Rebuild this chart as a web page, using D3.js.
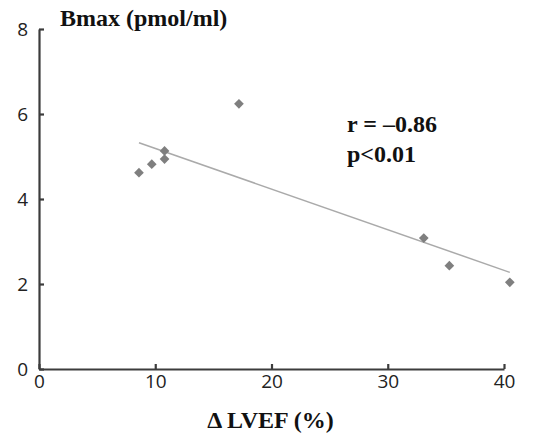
<!DOCTYPE html>
<meta charset="utf-8">
<style>
body { margin: 0; background: #fff; }
.axis text { font-family: "Open Sans", sans-serif; font-size: 19px; fill: #222; }
.title { font-family: "Liberation Serif", serif; font-weight: bold; font-size: 24px; fill: #111; }
</style>
<body>
<script src="https://d3js.org/d3.v7.min.js"></script>
<script>
// values
var lvef = [8.6, 9.7, 10.8, 10.8, 17.2, 33.1, 35.3, 40.5];
var bmax = [4.62, 4.82, 4.94, 5.13, 6.24, 3.08, 2.43, 2.04];
var xTicks = [0, 10, 20, 30, 40];
var yTicks = [0, 2, 4, 6, 8];

var width = 555, height = 437;
var margin = {top: 29, right: 51, bottom: 68, left: 39};

var svg = d3.select("body").append("svg")
    .attr("width", width)
    .attr("height", height);

var x = d3.scaleLinear().domain([0, 40]).range([margin.left, width - margin.right]);
var y = d3.scaleLinear().domain([0, 8]).range([height - margin.bottom, margin.top]);

// regression line
var mx = d3.mean(lvef), my = d3.mean(bmax);
var sxy = d3.sum(lvef, function(d, i) { return (d - mx) * (bmax[i] - my); });
var sxx = d3.sum(lvef, function(d) { return (d - mx) * (d - mx); });
var slope = sxy / sxx, icpt = my - slope * mx;
var x0 = d3.min(lvef), x1 = d3.max(lvef);

svg.append("line")
    .attr("x1", x(x0)).attr("y1", y(icpt + slope * x0))
    .attr("x2", x(x1)).attr("y2", y(icpt + slope * x1))
    .attr("stroke", "#aaa")
    .attr("stroke-width", 1.5);

// axes
var gx = svg.append("g")
    .attr("class", "axis")
    .attr("transform", "translate(0," + y(0) + ")")
    .call(d3.axisBottom(x).tickValues(xTicks).tickSize(-5).tickSizeOuter(0).tickPadding(5));

var gy = svg.append("g")
    .attr("class", "axis")
    .attr("transform", "translate(" + x(0) + ",0)")
    .call(d3.axisLeft(y).tickValues(yTicks).tickSize(-5).tickSizeOuter(0).tickPadding(11));

svg.selectAll(".axis path, .axis line")
    .attr("stroke", "#3c3c3c")
    .attr("stroke-width", 2.2);

// points
svg.selectAll(".pt")
    .data(lvef)
  .enter().append("path")
    .attr("class", "pt")
    .attr("d", d3.symbol().type(d3.symbolDiamond2).size(60))
    .attr("transform", function(d, i) { return "translate(" + x(d) + "," + y(bmax[i]) + ")"; })
    .attr("fill", "#7f7f7f");

// labels
svg.append("text").attr("class", "title")
    .attr("x", 60).attr("y", 26)
    .text("Bmax (pmol/ml)");

svg.append("text").attr("class", "title")
    .attr("x", 347).attr("y", 132)
    .text("r = \u20130.86");

svg.append("text").attr("class", "title")
    .attr("x", 347).attr("y", 162)
    .text("p<0.01");

svg.append("text").attr("class", "title")
    .attr("x", (x(0) + x(40)) / 2 - 1).attr("y", 428)
    .attr("text-anchor", "middle")
    .text("\u0394 LVEF (%)");
</script>
</body>
